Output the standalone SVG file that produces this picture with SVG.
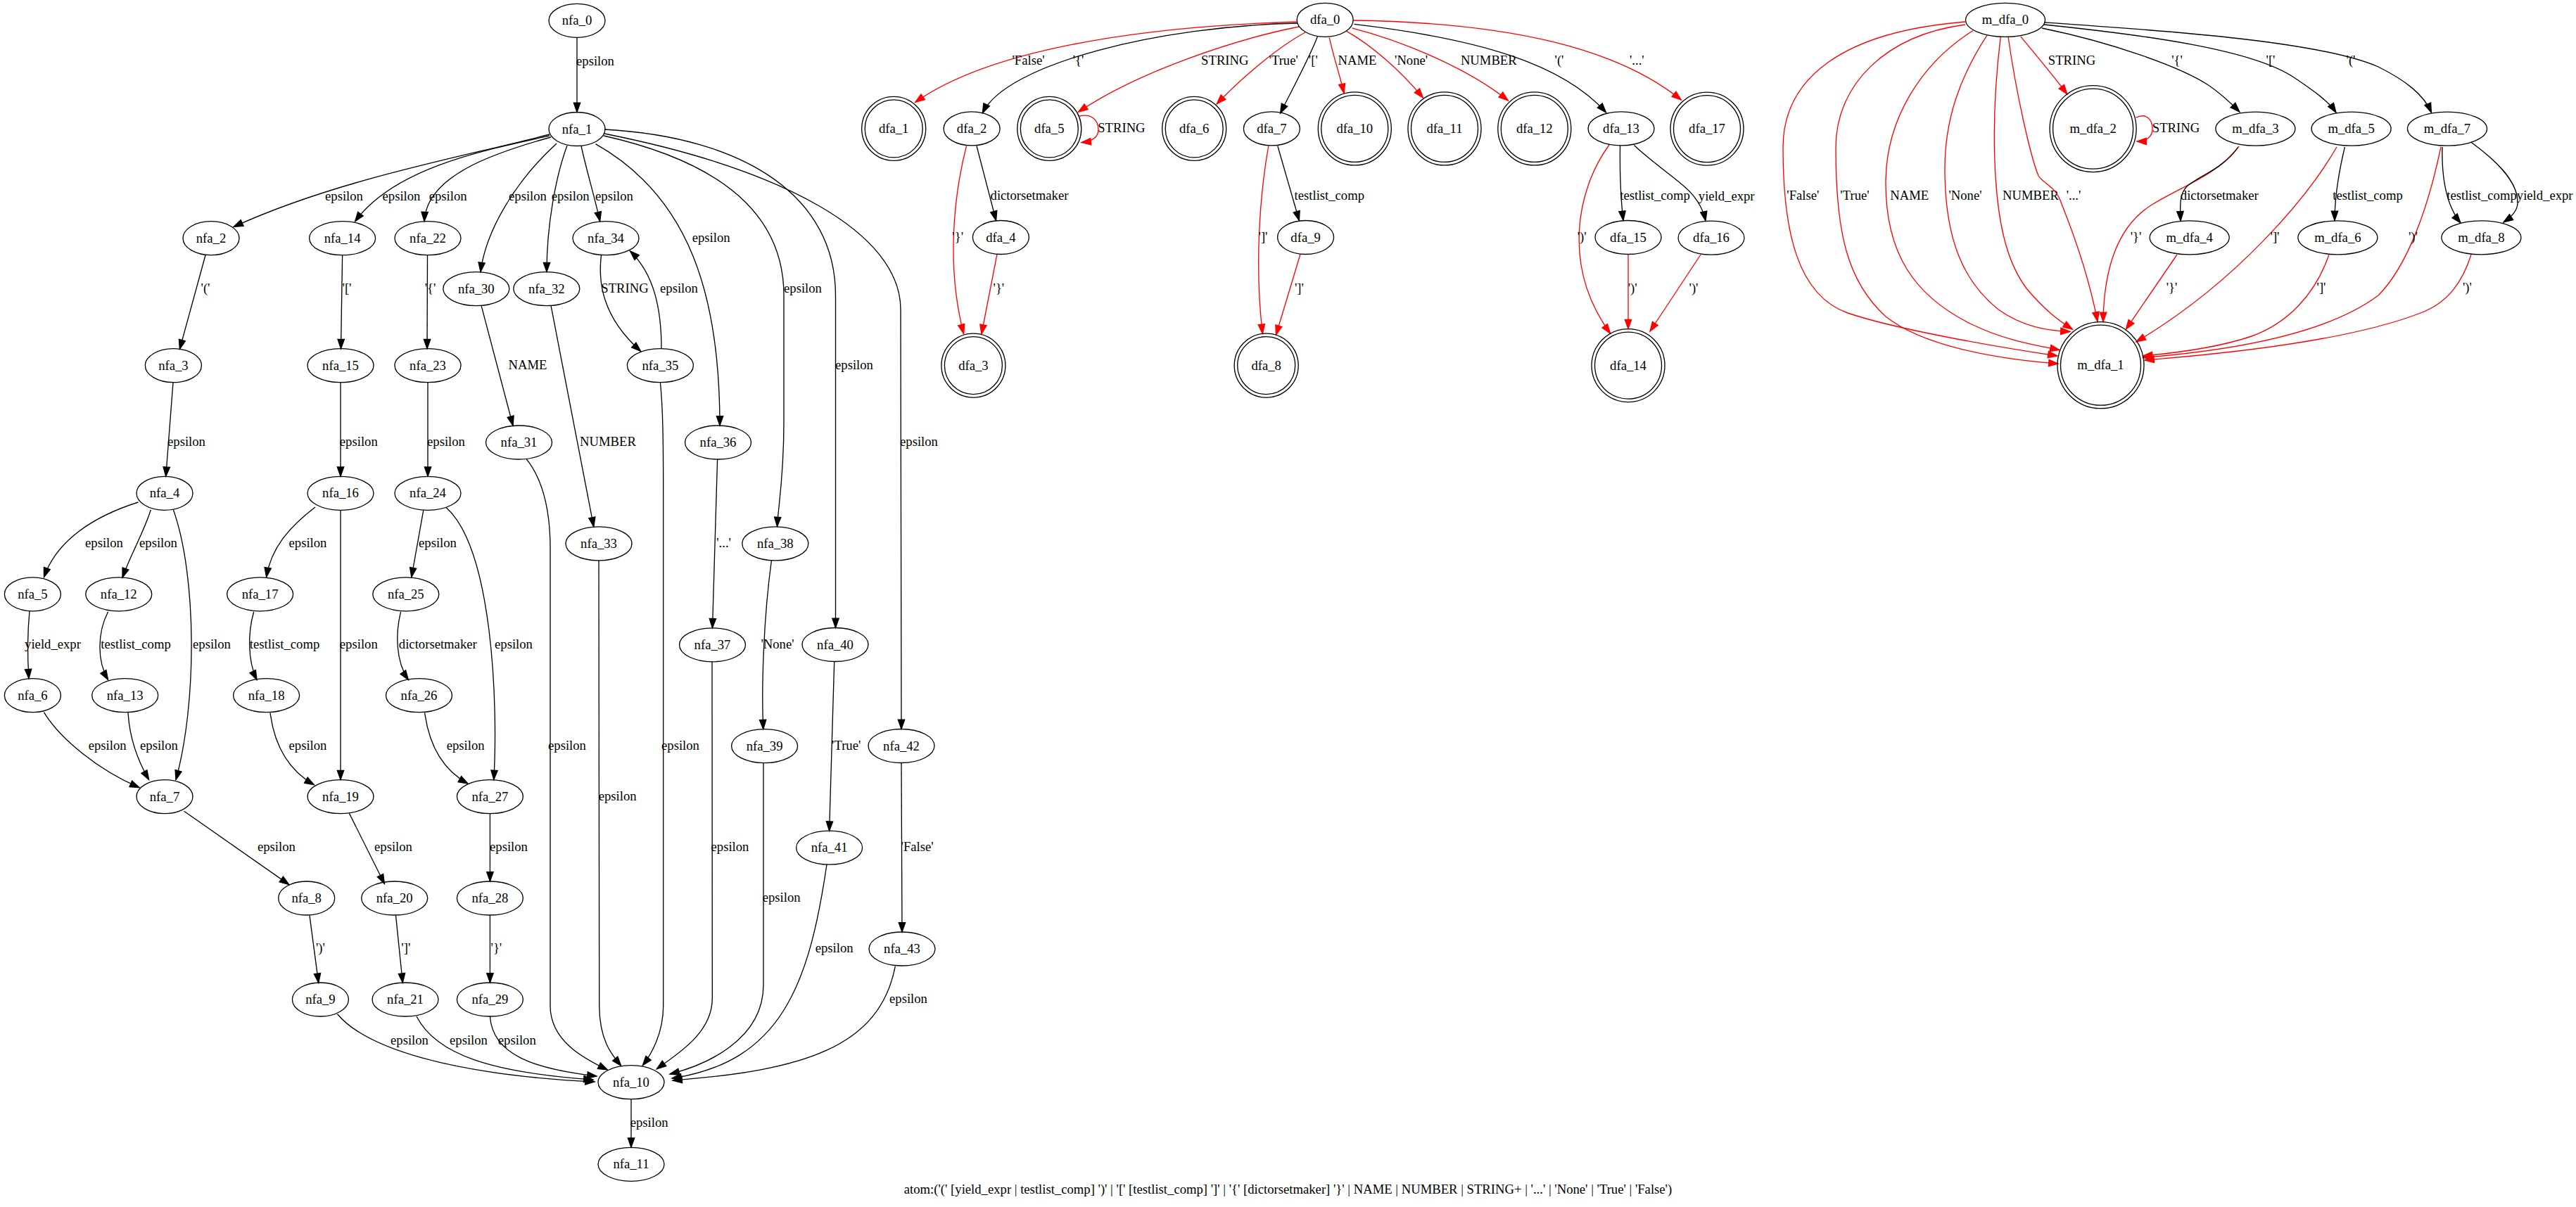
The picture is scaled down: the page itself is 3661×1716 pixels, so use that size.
<svg xmlns="http://www.w3.org/2000/svg" width="3661" height="1716" viewBox="0 0 3661 1716">
<style>
text{font-family:"Liberation Serif","Times New Roman",serif;font-size:18.67px;text-anchor:middle;fill:#000}
.n ellipse,.n circle{fill:none;stroke:#000;stroke-width:1.33}
.e{fill:none;stroke:#000;stroke-width:1.33;marker-end:url(#ab)}
.r{fill:none;stroke:#f00;stroke-width:1.33;marker-end:url(#ar)}
</style>
<defs>
<marker id="ab" markerUnits="userSpaceOnUse" markerWidth="16" markerHeight="12" refX="13.3" refY="4.67" orient="auto" overflow="visible"><path d="M0,0 L13.3,4.67 L0,9.33 Z" fill="#000" stroke="#000" stroke-width="1.33"/></marker>
<marker id="ar" markerUnits="userSpaceOnUse" markerWidth="16" markerHeight="12" refX="13.3" refY="4.67" orient="auto" overflow="visible"><path d="M0,0 L13.3,4.67 L0,9.33 Z" fill="#f00" stroke="#f00" stroke-width="1.33"/></marker>
</defs>
<rect width="3661" height="1716" fill="#fff"/>
<g id="connectors">
<path class="e" d="M820,53.3 L820,159.5"/><text x="846" y="93">epsilon</text>
<path class="e" d="M781,191 C650,225 480,255 332,322.5"/><text x="489" y="285">epsilon</text>
<path class="e" d="M781,193 C680,215 560,240 504.5,314.8"/><text x="570.5" y="285">epsilon</text>
<path class="e" d="M783,195 C700,218 606,250 603,314.7"/><text x="636.6" y="285">epsilon</text>
<path class="e" d="M791,204 C730,260 690,330 683,386.6"/><text x="750" y="285">epsilon</text>
<path class="e" d="M806,207 C790,250 777,320 777,386.6"/><text x="810.7" y="285">epsilon</text>
<path class="e" d="M826,207.5 C833,240 845,280 852.7,314.6"/><text x="873" y="285">epsilon</text>
<path class="e" d="M846.4,204.7 C980,280 1023,420 1023,605"/><text x="1010.7" y="343.7">epsilon</text>
<path class="e" d="M858,193 C1000,225 1114,290 1114,420 L1114,600 C1114,680 1106,720 1104.5,748.6"/><text x="1141" y="415.6">epsilon</text>
<path class="e" d="M859,184 C1060,195 1187.5,280 1187.5,420 L1187.5,892.5"/><text x="1214" y="524.7">epsilon</text>
<path class="e" d="M859,190 C1110,240 1280,330 1280,440 L1281,1036.5"/><text x="1306" y="634">epsilon</text>
<path class="e" d="M292,362.8 L255.4,496.4"/><text x="292" y="416.4">'('</text>
<path class="e" d="M486.6,362.7 L484.5,495.7"/><text x="493" y="416.4">'['</text>
<path class="e" d="M607.5,362.7 L607,495.7"/><text x="611.6" y="416.4">'{'</text>
<path class="e" d="M684,434.4 L729,605"/><text x="750" y="524.7">NAME</text>
<path class="e" d="M783,434.4 L843.8,748.9"/><text x="864" y="634">NUMBER</text>
<path class="e" d="M854.5,362.8 C850,400 855,450 910.7,499.4"/><text x="888" y="415.6">STRING</text>
<path class="e" d="M940,495.7 C940,440 930,390 895.5,357"/><text x="965" y="415.6">epsilon</text>
<path class="e" d="M246,543.7 L235.7,677.3"/><text x="265" y="634">epsilon</text>
<path class="e" d="M484,543.7 L484,677.3"/><text x="509.8" y="634">epsilon</text>
<path class="e" d="M608,543.7 L608,677.3"/><text x="634" y="634">epsilon</text>
<path class="e" d="M748.2,652.7 C770,680 782,720 782,780 L782,1430 C782,1480 830,1505 863.3,1521"/><text x="806" y="1065.7">epsilon</text>
<path class="e" d="M851,796.9 L851.7,1430 C852,1480 870,1500 882.7,1515.3"/><text x="877.7" y="1137.6">epsilon</text>
<path class="e" d="M938.4,543.7 C942,580 942.7,620 942.7,700 L942.7,1430 C942.7,1470 925,1500 913.3,1514.7"/><text x="967" y="1065.7">epsilon</text>
<path class="e" d="M1019.6,652.7 L1012.5,892.8"/><text x="1028.6" y="777.9">'...'</text>
<path class="e" d="M1096.4,797 C1085,880 1082,980 1084.8,1036.7"/><text x="1105" y="921.8">'None'</text>
<path class="e" d="M196.4,714 C130,735 80,770 62.5,820.5"/><text x="148" y="777.9">epsilon</text>
<path class="e" d="M214.3,724.7 C205,755 185,790 174,821"/><text x="225" y="777.9">epsilon</text>
<path class="e" d="M246.4,724.7 C280,820 280,1000 250,1108.6"/><text x="301" y="921.8">epsilon</text>
<path class="e" d="M42,868.8 C39,900 39,935 41,964.7"/><text x="75" y="921.8">yield_expr</text>
<path class="e" d="M153.6,869.7 C138,900 138,940 153.6,966.5"/><text x="193" y="921.8">testlist_comp</text>
<path class="e" d="M62.5,1012.7 C85,1050 140,1095 198,1119.6"/><text x="152.7" y="1065.7">epsilon</text>
<path class="e" d="M182,1012.7 C184,1050 195,1080 211.6,1108.6"/><text x="226" y="1065.7">epsilon</text>
<path class="e" d="M261.6,1153.3 L410.7,1257.6"/><text x="392.9" y="1210.2">epsilon</text>
<path class="e" d="M440,1301.6 L452.7,1397.3"/><text x="455.4" y="1354">')'</text>
<path class="e" d="M479.5,1441.7 C520,1490 640,1528 845,1538"/><text x="582" y="1485">epsilon</text>
<path class="e" d="M448,721 C410,750 385,780 378.6,820.5"/><text x="437.5" y="777.9">epsilon</text>
<path class="e" d="M484,725.3 L484,1108.6"/><text x="509.8" y="921.8">epsilon</text>
<path class="e" d="M360.7,869.7 C352,900 352,940 365,966.5"/><text x="404.5" y="921.8">testlist_comp</text>
<path class="e" d="M384,1013.4 C390,1060 410,1095 446.4,1115.8"/><text x="437.5" y="1065.7">epsilon</text>
<path class="e" d="M496.4,1156.4 L546.4,1256.5"/><text x="559" y="1210.2">epsilon</text>
<path class="e" d="M562.5,1301.6 L572.3,1397.3"/><text x="576.8" y="1354">']'</text>
<path class="e" d="M592,1445 C620,1500 700,1525 843,1535"/><text x="666" y="1485">epsilon</text>
<path class="e" d="M601.8,725.4 L584.8,820.5"/><text x="622" y="777.9">epsilon</text>
<path class="e" d="M634,721.6 C700,780 708,1000 701.8,1108.6"/><text x="730" y="921.8">epsilon</text>
<path class="e" d="M569.6,869.7 C562,900 562,940 580.4,966.5"/><text x="622.3" y="921.8">dictorsetmaker</text>
<path class="e" d="M603.6,1013.4 C610,1060 630,1095 665,1114"/><text x="661.6" y="1065.7">epsilon</text>
<path class="e" d="M696.4,1156.6 L696.4,1253"/><text x="723" y="1210.2">epsilon</text>
<path class="e" d="M696.4,1301 L696.4,1397"/><text x="705.4" y="1354">'}'</text>
<path class="e" d="M696.4,1445 C700,1500 760,1520 848,1530"/><text x="734.8" y="1485">epsilon</text>
<path class="e" d="M1012,940.8 L1012.3,1420 C1012,1470 960,1500 933.3,1519.7"/><text x="1037.5" y="1210.2">epsilon</text>
<path class="e" d="M1085,1084.7 L1085,1400 C1085,1480 1000,1515 952,1527"/><text x="1110.7" y="1282">epsilon</text>
<path class="e" d="M1185.7,941 L1178.6,1181.2"/><text x="1202.7" y="1065.7">'True'</text>
<path class="e" d="M1175,1229 C1150,1400 1110,1510 955,1533"/><text x="1185.7" y="1354">epsilon</text>
<path class="e" d="M1281,1084.5 L1282,1325"/><text x="1303.6" y="1210.2">'False'</text>
<path class="e" d="M1272.3,1373.5 C1250,1490 1140,1522 956,1536"/><text x="1291" y="1426">epsilon</text>
<path class="e" d="M897,1562.7 L897,1631.3"/><text x="922.7" y="1602">epsilon</text>

<path class="r" d="M1844,31 C1600,38 1400,75 1300.8,145.4"/><text x="1461.5" y="92.2">'False'</text>
<path class="e" d="M1844,33 C1650,37 1430,90 1396.4,160.7"/><text x="1532.6" y="92.2">'{'</text>
<path class="r" d="M1846,38 C1760,55 1620,100 1532.6,159.2"/><text x="1740.8" y="92.2">STRING</text>
<path class="r" d="M1855,46 C1820,65 1770,105 1729.3,147.7"/><text x="1824.2" y="92.2">'True'</text>
<path class="e" d="M1872.4,52 C1862,80 1835,130 1819.6,161"/><text x="1866.3" y="92.2">'['</text>
<path class="r" d="M1889.3,53.6 C1895,80 1905,110 1910,132.5"/><text x="1929" y="92.2">NAME</text>
<path class="r" d="M1913.8,44.4 C1950,65 1990,100 2022.4,139"/><text x="2005.6" y="92.2">'None'</text>
<path class="r" d="M1921.4,39.8 C2000,60 2090,100 2143.3,143"/><text x="2115.8" y="92.2">NUMBER</text>
<path class="e" d="M1924.5,34.4 C2100,55 2220,90 2282.6,160"/><text x="2216" y="92.2">'('</text>
<path class="r" d="M1923,29 C2150,32 2300,70 2389.3,142.1"/><text x="2326.3" y="92.2">'...'</text>
<path class="r" d="M1532.6,165.5 C1552,160 1561,172 1561,184 C1561,195 1552,201 1537,202.5"/><text x="1593.9" y="188">STRING</text>
<path class="r" d="M1373.5,207.5 C1355,280 1345,380 1369.6,474.5"/><text x="1361.2" y="342.5">'}'</text>
<path class="e" d="M1388,207.5 L1415.6,313.5"/><text x="1463" y="284.3">dictorsetmaker</text>
<path class="r" d="M1417,361.5 L1394.9,475"/><text x="1419.4" y="416">'}'</text>
<path class="r" d="M1802.8,207.5 C1790,280 1783,380 1794.4,474.5"/><text x="1795" y="342.5">']'</text>
<path class="e" d="M1815.8,207.5 L1846.4,313.5"/><text x="1889.3" y="284.3">testlist_comp</text>
<path class="r" d="M1848,361.5 L1813.5,476"/><text x="1846.4" y="416">']'</text>
<path class="r" d="M2287,206 C2240,270 2220,380 2288.5,474"/><text x="2248.2" y="342.5">')'</text>
<path class="e" d="M2302.5,207 C2302,240 2303,280 2307,313.5"/><text x="2352" y="284.3">testlist_comp</text>
<path class="e" d="M2322.4,206.6 C2345,228 2370,245 2390,262 C2410,278 2420,295 2424,314"/><text x="2453.7" y="285">yield_expr</text>
<path class="r" d="M2314,361.5 L2314,467.6"/><text x="2320.2" y="416">')'</text>
<path class="r" d="M2417,362 L2345,471"/><text x="2407" y="416.4">')'</text>

<path class="r" d="M2793,31 C2620,45 2534,110 2534,210 C2534,330 2555,420 2626,445 C2700,470 2850,495 2924,506"/><text x="2562.4" y="284.3">'False'</text>
<path class="r" d="M2793,35 C2680,50 2609,120 2609,210 C2609,330 2625,400 2680,450 C2730,490 2830,510 2925,517"/><text x="2636" y="284.3">'True'</text>
<path class="r" d="M2804,43.5 C2730,90 2680,170 2680,260 C2680,360 2720,420 2800,460 C2850,485 2900,492 2927,497.5"/><text x="2713.7" y="284.3">NAME</text>
<path class="r" d="M2824,50.2 C2785,110 2764,170 2764,240 C2764,340 2790,400 2840,440 C2875,465 2910,470 2942,471.5"/><text x="2793" y="284.3">'None'</text>
<path class="r" d="M2843.3,51.8 C2835,120 2833,180 2835,230 C2838,310 2850,370 2880,410 C2905,440 2925,455 2945.3,468.2"/><text x="2886" y="284.3">NUMBER</text>
<path class="r" d="M2854,52 C2865,130 2885,220 2897,250 C2905,262 2922,265 2930,290 C2950,340 2970,400 2981,457"/><text x="2947" y="284.3">'...'</text>
<path class="r" d="M3182,208 C3150,250 3100,265 3060,290 C3010,320 2990,380 2989,457.5"/><text x="3035.6" y="342.8">'}'</text>
<path class="r" d="M3094,362 L3021.4,468.2"/><text x="3086.6" y="414.7">'}'</text>
<path class="r" d="M3321,209 C3280,280 3180,400 3036,486"/><text x="3233" y="342.8">']'</text>
<path class="r" d="M3310,362 C3290,420 3250,460 3200,478 C3150,495 3090,502 3045.6,506"/><text x="3299" y="414.7">']'</text>
<path class="r" d="M3469,209 C3450,300 3420,380 3380,420 C3300,480 3150,500 3045.6,508.4"/><text x="3429.4" y="342.8">')'</text>
<path class="r" d="M3512,362 C3500,400 3480,430 3440,445 C3350,480 3200,500 3048,512"/><text x="3506.4" y="414.7">')'</text>
<path class="r" d="M2871.7,51.8 C2895,80 2920,110 2937.8,133.8"/><text x="2944.5" y="92">STRING</text>
<path class="r" d="M3035.6,167.2 C3050,160 3059,170 3059,183 C3059,195 3050,201 3037,201"/><text x="3092.5" y="188">STRING</text>
<path class="e" d="M2902,40 C3000,60 3100,95 3140,122 C3160,136 3172,148 3182.8,159"/><text x="3094" y="92">'{'</text>
<path class="e" d="M2905,35 C3050,50 3200,70 3260,110 C3290,130 3310,145 3320,160"/><text x="3227" y="92">'['</text>
<path class="e" d="M2905,31.8 C3100,45 3300,60 3380,95 C3420,115 3445,135 3455.4,160"/><text x="3341" y="92">'('</text>
<path class="e" d="M3181,209 C3160,240 3125,250 3108,265 C3098,275 3098,290 3099,314"/><text x="3154.3" y="284.3">dictorsetmaker</text>
<path class="e" d="M3332.4,209 C3325,240 3318,280 3318,313.5"/><text x="3365" y="284.3">testlist_comp</text>
<path class="e" d="M3471,209 C3470,250 3475,290 3497,317"/><text x="3527" y="284.3">testlist_comp</text>
<path class="e" d="M3512,202.3 C3550,230 3580,260 3578,290 C3577,300 3570,308 3558,316"/><text x="3616.7" y="284.3">yield_expr</text>
</g>
<g id="nfa_0" class="n"><ellipse cx="820" cy="29.3" rx="40" ry="24"/><text x="820" y="35.3">nfa_0</text></g>
<g id="nfa_1" class="n"><ellipse cx="820" cy="183.5" rx="40" ry="24"/><text x="820" y="189.5">nfa_1</text></g>
<g id="nfa_2" class="n"><ellipse cx="300" cy="338.7" rx="40" ry="24"/><text x="300" y="344.7">nfa_2</text></g>
<g id="nfa_14" class="n"><ellipse cx="486.6" cy="338.7" rx="47" ry="24"/><text x="486.6" y="344.7">nfa_14</text></g>
<g id="nfa_22" class="n"><ellipse cx="608" cy="338.7" rx="47" ry="24"/><text x="608" y="344.7">nfa_22</text></g>
<g id="nfa_34" class="n"><ellipse cx="861" cy="338.7" rx="47" ry="24"/><text x="861" y="344.7">nfa_34</text></g>
<g id="nfa_30" class="n"><ellipse cx="676.8" cy="410.6" rx="47" ry="24"/><text x="676.8" y="416.6">nfa_30</text></g>
<g id="nfa_32" class="n"><ellipse cx="776.8" cy="410.6" rx="47" ry="24"/><text x="776.8" y="416.6">nfa_32</text></g>
<g id="nfa_3" class="n"><ellipse cx="246.4" cy="519.7" rx="40" ry="24"/><text x="246.4" y="525.7">nfa_3</text></g>
<g id="nfa_15" class="n"><ellipse cx="484" cy="519.7" rx="47" ry="24"/><text x="484" y="525.7">nfa_15</text></g>
<g id="nfa_23" class="n"><ellipse cx="608" cy="519.7" rx="47" ry="24"/><text x="608" y="525.7">nfa_23</text></g>
<g id="nfa_35" class="n"><ellipse cx="938.4" cy="519.7" rx="47" ry="24"/><text x="938.4" y="525.7">nfa_35</text></g>
<g id="nfa_31" class="n"><ellipse cx="737.5" cy="629" rx="47" ry="24"/><text x="737.5" y="635">nfa_31</text></g>
<g id="nfa_36" class="n"><ellipse cx="1020.5" cy="629" rx="47" ry="24"/><text x="1020.5" y="635">nfa_36</text></g>
<g id="nfa_4" class="n"><ellipse cx="234" cy="701.3" rx="40" ry="24"/><text x="234" y="707.3">nfa_4</text></g>
<g id="nfa_16" class="n"><ellipse cx="484" cy="701.3" rx="47" ry="24"/><text x="484" y="707.3">nfa_16</text></g>
<g id="nfa_24" class="n"><ellipse cx="608" cy="701.3" rx="47" ry="24"/><text x="608" y="707.3">nfa_24</text></g>
<g id="nfa_33" class="n"><ellipse cx="851" cy="772.9" rx="47" ry="24"/><text x="851" y="778.9">nfa_33</text></g>
<g id="nfa_38" class="n"><ellipse cx="1101.8" cy="772.9" rx="47" ry="24"/><text x="1101.8" y="778.9">nfa_38</text></g>
<g id="nfa_5" class="n"><ellipse cx="46.4" cy="844.8" rx="40" ry="24"/><text x="46.4" y="850.8">nfa_5</text></g>
<g id="nfa_12" class="n"><ellipse cx="168.75" cy="844.8" rx="47" ry="24"/><text x="168.75" y="850.8">nfa_12</text></g>
<g id="nfa_17" class="n"><ellipse cx="369.6" cy="844.8" rx="47" ry="24"/><text x="369.6" y="850.8">nfa_17</text></g>
<g id="nfa_25" class="n"><ellipse cx="576.8" cy="844.8" rx="47" ry="24"/><text x="576.8" y="850.8">nfa_25</text></g>
<g id="nfa_37" class="n"><ellipse cx="1012.5" cy="916.8" rx="47" ry="24"/><text x="1012.5" y="922.8">nfa_37</text></g>
<g id="nfa_40" class="n"><ellipse cx="1187" cy="916.5" rx="47" ry="24"/><text x="1187" y="922.5">nfa_40</text></g>
<g id="nfa_6" class="n"><ellipse cx="46.4" cy="988.7" rx="40" ry="24"/><text x="46.4" y="994.7">nfa_6</text></g>
<g id="nfa_13" class="n"><ellipse cx="177.7" cy="988.7" rx="47" ry="24"/><text x="177.7" y="994.7">nfa_13</text></g>
<g id="nfa_18" class="n"><ellipse cx="378.6" cy="988.7" rx="47" ry="24"/><text x="378.6" y="994.7">nfa_18</text></g>
<g id="nfa_26" class="n"><ellipse cx="595.5" cy="988.7" rx="47" ry="24"/><text x="595.5" y="994.7">nfa_26</text></g>
<g id="nfa_39" class="n"><ellipse cx="1086.6" cy="1060.7" rx="47" ry="24"/><text x="1086.6" y="1066.7">nfa_39</text></g>
<g id="nfa_42" class="n"><ellipse cx="1281" cy="1060.5" rx="47" ry="24"/><text x="1281" y="1066.5">nfa_42</text></g>
<g id="nfa_7" class="n"><ellipse cx="234" cy="1132.6" rx="40" ry="24"/><text x="234" y="1138.6">nfa_7</text></g>
<g id="nfa_19" class="n"><ellipse cx="484" cy="1132.6" rx="47" ry="24"/><text x="484" y="1138.6">nfa_19</text></g>
<g id="nfa_27" class="n"><ellipse cx="696.4" cy="1132.6" rx="47" ry="24"/><text x="696.4" y="1138.6">nfa_27</text></g>
<g id="nfa_41" class="n"><ellipse cx="1178.6" cy="1205.2" rx="47" ry="24"/><text x="1178.6" y="1211.2">nfa_41</text></g>
<g id="nfa_8" class="n"><ellipse cx="435.7" cy="1277" rx="40" ry="24"/><text x="435.7" y="1283">nfa_8</text></g>
<g id="nfa_20" class="n"><ellipse cx="560.7" cy="1277" rx="47" ry="24"/><text x="560.7" y="1283">nfa_20</text></g>
<g id="nfa_28" class="n"><ellipse cx="696.4" cy="1277" rx="47" ry="24"/><text x="696.4" y="1283">nfa_28</text></g>
<g id="nfa_43" class="n"><ellipse cx="1282" cy="1349" rx="47" ry="24"/><text x="1282" y="1355">nfa_43</text></g>
<g id="nfa_9" class="n"><ellipse cx="455.4" cy="1421" rx="40" ry="24"/><text x="455.4" y="1427">nfa_9</text></g>
<g id="nfa_21" class="n"><ellipse cx="576" cy="1421" rx="47" ry="24"/><text x="576" y="1427">nfa_21</text></g>
<g id="nfa_29" class="n"><ellipse cx="696.4" cy="1421" rx="47" ry="24"/><text x="696.4" y="1427">nfa_29</text></g>
<g id="nfa_10" class="n"><ellipse cx="897" cy="1538.7" rx="47" ry="24"/><text x="897" y="1544.7">nfa_10</text></g>
<g id="nfa_11" class="n"><ellipse cx="897" cy="1655.3" rx="47" ry="24"/><text x="897" y="1661.3">nfa_11</text></g>

<g id="dfa_0" class="n"><ellipse cx="1883.2" cy="28.3" rx="40" ry="24"/><text x="1883.2" y="34.3">dfa_0</text></g>
<g id="dfa_1" class="n"><circle cx="1270.2" cy="182.9" r="45.5"/><circle cx="1270.2" cy="182.9" r="41"/><text x="1270.2" y="188.9">dfa_1</text></g>
<g id="dfa_2" class="n"><ellipse cx="1381.1" cy="182.9" rx="40" ry="24"/><text x="1381.1" y="188.9">dfa_2</text></g>
<g id="dfa_5" class="n"><circle cx="1491.3" cy="182.9" r="45.5"/><circle cx="1491.3" cy="182.9" r="41"/><text x="1491.3" y="188.9">dfa_5</text></g>
<g id="dfa_6" class="n"><circle cx="1697.2" cy="182.9" r="45.5"/><circle cx="1697.2" cy="182.9" r="41"/><text x="1697.2" y="188.9">dfa_6</text></g>
<g id="dfa_7" class="n"><ellipse cx="1807.4" cy="182.9" rx="40" ry="24"/><text x="1807.4" y="188.9">dfa_7</text></g>
<g id="dfa_10" class="n"><circle cx="1925.3" cy="182.9" r="52"/><circle cx="1925.3" cy="182.9" r="47.5"/><text x="1925.3" y="188.9">dfa_10</text></g>
<g id="dfa_11" class="n"><circle cx="2053" cy="182.9" r="52"/><circle cx="2053" cy="182.9" r="47.5"/><text x="2053" y="188.9">dfa_11</text></g>
<g id="dfa_12" class="n"><circle cx="2180.8" cy="182.9" r="52"/><circle cx="2180.8" cy="182.9" r="47.5"/><text x="2180.8" y="188.9">dfa_12</text></g>
<g id="dfa_13" class="n"><ellipse cx="2304" cy="182.9" rx="47" ry="24"/><text x="2304" y="188.9">dfa_13</text></g>
<g id="dfa_17" class="n"><circle cx="2426" cy="183.1" r="52"/><circle cx="2426" cy="183.1" r="47.5"/><text x="2426" y="189.1">dfa_17</text></g>
<g id="dfa_4" class="n"><ellipse cx="1422.4" cy="337.5" rx="40" ry="24"/><text x="1422.4" y="343.5">dfa_4</text></g>
<g id="dfa_9" class="n"><ellipse cx="1855.6" cy="337.5" rx="40" ry="24"/><text x="1855.6" y="343.5">dfa_9</text></g>
<g id="dfa_15" class="n"><ellipse cx="2314" cy="337.5" rx="47" ry="24"/><text x="2314" y="343.5">dfa_15</text></g>
<g id="dfa_16" class="n"><ellipse cx="2432" cy="338.2" rx="47" ry="24"/><text x="2432" y="344.2">dfa_16</text></g>
<g id="dfa_3" class="n"><circle cx="1383.4" cy="519.6" r="45.5"/><circle cx="1383.4" cy="519.6" r="41"/><text x="1383.4" y="525.6">dfa_3</text></g>
<g id="dfa_8" class="n"><circle cx="1799.7" cy="519.6" r="45.5"/><circle cx="1799.7" cy="519.6" r="41"/><text x="1799.7" y="525.6">dfa_8</text></g>
<g id="dfa_14" class="n"><circle cx="2314" cy="519.6" r="52"/><circle cx="2314" cy="519.6" r="47.5"/><text x="2314" y="525.6">dfa_14</text></g>

<g id="m_dfa_0" class="n"><ellipse cx="2850" cy="28.4" rx="56.5" ry="24"/><text x="2850" y="34.4">m_dfa_0</text></g>
<g id="m_dfa_2" class="n"><circle cx="2974.6" cy="183.1" r="61.5"/><circle cx="2974.6" cy="183.1" r="57"/><text x="2974.6" y="189.1">m_dfa_2</text></g>
<g id="m_dfa_3" class="n"><ellipse cx="3205.4" cy="183.1" rx="56.5" ry="24"/><text x="3205.4" y="189.1">m_dfa_3</text></g>
<g id="m_dfa_5" class="n"><ellipse cx="3341.6" cy="183.1" rx="56.5" ry="24"/><text x="3341.6" y="189.1">m_dfa_5</text></g>
<g id="m_dfa_7" class="n"><ellipse cx="3478" cy="183.1" rx="56.5" ry="24"/><text x="3478" y="189.1">m_dfa_7</text></g>
<g id="m_dfa_4" class="n"><ellipse cx="3111.7" cy="337.8" rx="56.5" ry="24"/><text x="3111.7" y="343.8">m_dfa_4</text></g>
<g id="m_dfa_6" class="n"><ellipse cx="3322.4" cy="337.8" rx="56.5" ry="24"/><text x="3322.4" y="343.8">m_dfa_6</text></g>
<g id="m_dfa_8" class="n"><ellipse cx="3526.4" cy="337.8" rx="56.5" ry="24"/><text x="3526.4" y="343.8">m_dfa_8</text></g>
<g id="m_dfa_1" class="n"><circle cx="2985.5" cy="519.2" r="61.5"/><circle cx="2985.5" cy="519.2" r="57"/><text x="2985.5" y="525.2">m_dfa_1</text></g>

<text id="title" x="1830.5" y="1697">atom:('(' [yield_expr | testlist_comp] ')' | '[' [testlist_comp] ']' | '{' [dictorsetmaker] '}' | NAME | NUMBER | STRING+ | '...' | 'None' | 'True' | 'False')</text>
</svg>
